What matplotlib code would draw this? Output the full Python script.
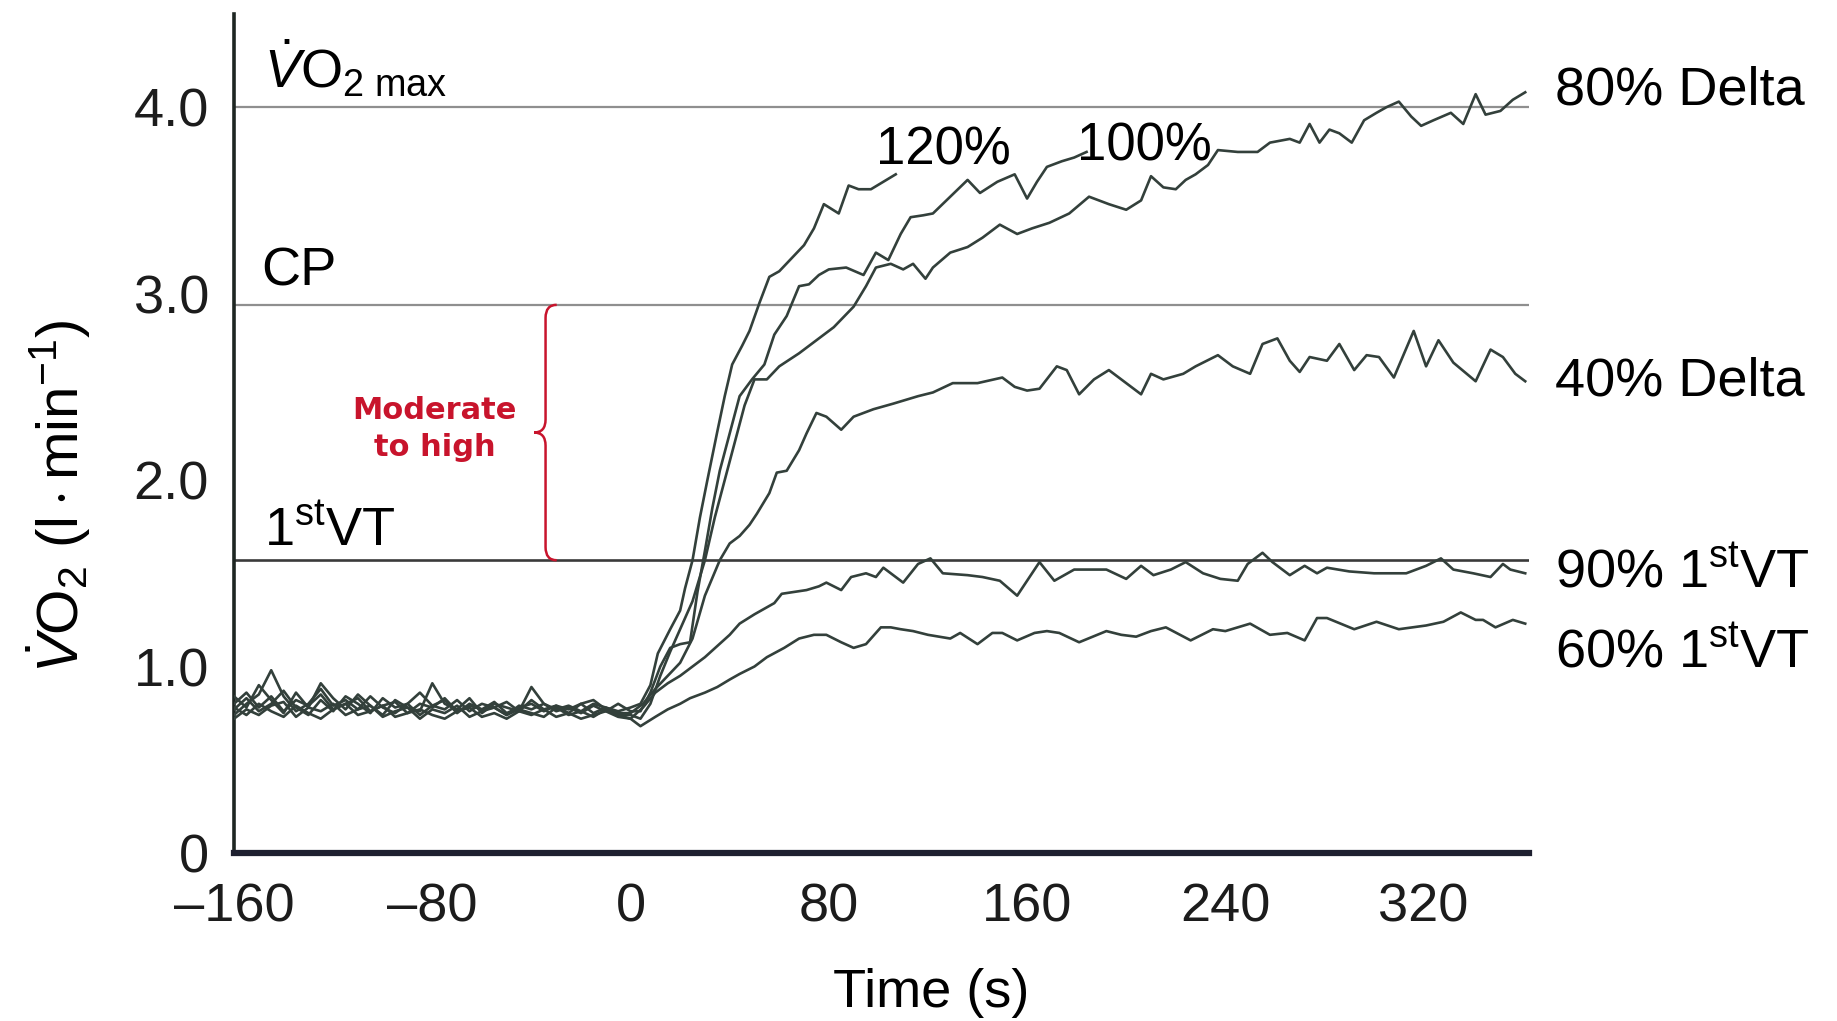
import numpy as np
import matplotlib
matplotlib.use("Agg")
import matplotlib.pyplot as plt
from matplotlib.path import Path
from matplotlib.patches import PathPatch

plt.rcParams['font.family'] = ['Liberation Sans', 'DejaVu Sans']
plt.rcParams['mathtext.fontset'] = 'custom'
plt.rcParams['mathtext.rm'] = 'Liberation Sans'
plt.rcParams['mathtext.it'] = 'Liberation Sans:italic'
plt.rcParams['mathtext.bf'] = 'Liberation Sans:bold'

# reference levels (l/min)
vo2max_level = 4.0
cp_level = 2.94
vt_level = 1.57

# baseline period, sampled every 5 s from -160 to 0
t_base = np.arange(-160, 1, 5)
base_120 = [0.80, 0.86, 0.78, 0.84, 0.76, 0.82, 0.79, 0.85, 0.77, 0.80, 0.83, 0.76, 0.79, 0.81, 0.75, 0.80, 0.78,
            0.83, 0.76, 0.79, 0.77, 0.81, 0.75, 0.78, 0.80, 0.76, 0.79, 0.77, 0.80, 0.75, 0.78, 0.76, 0.78]
base_100 = [0.74, 0.80, 0.85, 0.98, 0.84, 0.76, 0.80, 0.88, 0.79, 0.82, 0.77, 0.84, 0.78, 0.75, 0.80, 0.86, 0.79,
            0.77, 0.82, 0.76, 0.80, 0.78, 0.74, 0.79, 0.77, 0.80, 0.76, 0.78, 0.75, 0.79, 0.76, 0.80, 0.76]
base_80 = [0.84, 0.78, 0.90, 0.82, 0.75, 0.86, 0.78, 0.91, 0.83, 0.77, 0.85, 0.79, 0.74, 0.82, 0.78, 0.76, 0.91,
           0.80, 0.77, 0.83, 0.75, 0.80, 0.78, 0.76, 0.82, 0.77, 0.79, 0.75, 0.80, 0.82, 0.77, 0.74, 0.74]
base_40 = [0.77, 0.83, 0.76, 0.80, 0.87, 0.78, 0.74, 0.82, 0.76, 0.84, 0.80, 0.75, 0.83, 0.78, 0.80, 0.74, 0.79,
           0.82, 0.75, 0.80, 0.77, 0.78, 0.81, 0.76, 0.89, 0.80, 0.77, 0.79, 0.76, 0.80, 0.78, 0.75, 0.75]
base_90 = [0.72, 0.77, 0.74, 0.79, 0.81, 0.73, 0.78, 0.76, 0.80, 0.74, 0.77, 0.79, 0.73, 0.76, 0.78, 0.72, 0.77,
           0.75, 0.79, 0.73, 0.76, 0.78, 0.74, 0.77, 0.75, 0.73, 0.78, 0.74, 0.76, 0.73, 0.77, 0.74, 0.72]
base_60 = [0.78, 0.74, 0.80, 0.76, 0.73, 0.79, 0.75, 0.72, 0.77, 0.80, 0.74, 0.76, 0.79, 0.73, 0.75, 0.77, 0.74,
           0.72, 0.76, 0.78, 0.73, 0.75, 0.72, 0.76, 0.74, 0.77, 0.73, 0.75, 0.72, 0.74, 0.76, 0.73, 0.72]

# exercise period (s, l/min)
t_120 = [4, 8, 11, 16, 20, 22, 25, 28, 31, 35, 38, 41, 45, 48, 52, 56, 60, 65, 70, 74, 78, 84, 88, 92, 97, 102, 107]
v_120 = [0.80, 0.90, 1.07, 1.20, 1.30, 1.42, 1.57, 1.80, 2.00, 2.26, 2.45, 2.62, 2.72, 2.80, 2.95, 3.09, 3.12,
         3.19, 3.26, 3.35, 3.48, 3.43, 3.58, 3.56, 3.56, 3.60, 3.64]

t_100 = [4, 8, 12, 16, 20, 24, 27, 30, 33, 36, 40, 44, 49, 54, 58, 63, 68, 72, 76, 80, 87, 94, 99, 104, 109, 113,
         118, 122, 129, 136, 141, 148, 155, 160, 164, 168, 174, 179, 184]
v_100 = [0.76, 0.86, 1.00, 1.10, 1.12, 1.13, 1.40, 1.62, 1.85, 2.05, 2.25, 2.45, 2.54, 2.62, 2.78, 2.88, 3.04,
         3.05, 3.10, 3.13, 3.14, 3.10, 3.22, 3.18, 3.32, 3.41, 3.42, 3.43, 3.52, 3.61, 3.54, 3.60, 3.64, 3.51,
         3.60, 3.68, 3.71, 3.73, 3.76]

t_80 = [4, 8, 12, 16, 20, 25, 30, 34, 38, 42, 46, 50, 55, 60, 68, 75, 82, 90, 95, 99, 105, 110, 114, 119, 122,
        129, 136, 142, 149, 156, 162, 169, 177, 185, 193, 200, 206, 210, 215, 220, 224, 228, 233, 237, 245, 253,
        258, 266, 270, 274, 278, 282, 286, 291, 296, 301, 305, 310, 315, 319, 324, 331, 336, 341, 345, 351, 356, 361]
v_80 = [0.72, 0.80, 0.95, 1.08, 1.20, 1.35, 1.57, 1.80, 2.00, 2.20, 2.40, 2.54, 2.54, 2.61, 2.68, 2.75, 2.82,
        2.93, 3.04, 3.14, 3.16, 3.13, 3.16, 3.08, 3.14, 3.22, 3.25, 3.30, 3.37, 3.32, 3.35, 3.38, 3.43, 3.52,
        3.48, 3.45, 3.50, 3.63, 3.57, 3.56, 3.61, 3.64, 3.69, 3.77, 3.76, 3.76, 3.81, 3.83, 3.81, 3.91, 3.81,
        3.88, 3.86, 3.81, 3.93, 3.97, 4.00, 4.03, 3.95, 3.90, 3.93, 3.97, 3.91, 4.07, 3.96, 3.98, 4.04, 4.08]

t_40 = [5, 10, 15, 20, 25, 30, 36, 40, 44, 48, 51, 56, 59, 63, 68, 71, 75, 79, 85, 90, 98, 106, 116, 122, 130,
        140, 150, 155, 160, 165, 172, 176, 181, 187, 193, 199, 206, 210, 215, 223, 228, 237, 243, 250, 255, 261,
        266, 270, 274, 281, 286, 292, 297, 302, 308, 316, 321, 326, 332, 341, 347, 352, 357, 361]
v_40 = [0.80, 0.88, 0.95, 1.02, 1.15, 1.38, 1.57, 1.66, 1.70, 1.76, 1.82, 1.93, 2.04, 2.05, 2.16, 2.25, 2.36,
        2.34, 2.27, 2.34, 2.38, 2.41, 2.45, 2.47, 2.52, 2.52, 2.55, 2.50, 2.48, 2.49, 2.61, 2.59, 2.46, 2.54,
        2.59, 2.53, 2.46, 2.57, 2.54, 2.57, 2.61, 2.67, 2.61, 2.57, 2.73, 2.76, 2.64, 2.58, 2.66, 2.64, 2.73,
        2.59, 2.67, 2.66, 2.55, 2.80, 2.61, 2.75, 2.63, 2.53, 2.70, 2.66, 2.57, 2.53]

t_90 = [5, 10, 15, 20, 25, 30, 35, 40, 44, 50, 58, 61, 66, 71, 76, 79, 85, 89, 95, 99, 102, 110, 116, 121, 126,
        136, 142, 149, 156, 165, 171, 179, 192, 200, 206, 211, 218, 224, 231, 238, 245, 249, 255, 259, 266, 272,
        277, 281, 290, 300, 313, 321, 327, 332, 340, 347, 352, 355, 361]
v_90 = [0.78, 0.86, 0.91, 0.95, 1.00, 1.05, 1.11, 1.17, 1.23, 1.28, 1.34, 1.39, 1.40, 1.41, 1.43, 1.45, 1.41,
        1.48, 1.50, 1.48, 1.53, 1.45, 1.55, 1.58, 1.50, 1.49, 1.48, 1.46, 1.38, 1.56, 1.46, 1.52, 1.52, 1.47,
        1.54, 1.49, 1.52, 1.56, 1.50, 1.47, 1.46, 1.55, 1.61, 1.56, 1.49, 1.54, 1.50, 1.53, 1.51, 1.50, 1.50,
        1.54, 1.58, 1.52, 1.50, 1.48, 1.55, 1.52, 1.50]

t_60 = [4, 10, 15, 20, 24, 30, 35, 40, 44, 50, 55, 62, 68, 74, 79, 85, 90, 95, 101, 105, 109, 114, 120, 129, 133,
        140, 146, 150, 156, 163, 168, 173, 181, 192, 198, 204, 210, 216, 226, 235, 240, 250, 258, 265, 272, 277,
        281, 292, 301, 310, 321, 328, 335, 341, 344, 349, 356, 361]
v_60 = [0.68, 0.73, 0.77, 0.80, 0.83, 0.86, 0.89, 0.93, 0.96, 1.00, 1.05, 1.10, 1.15, 1.17, 1.17, 1.13, 1.10,
        1.12, 1.21, 1.21, 1.20, 1.19, 1.17, 1.15, 1.18, 1.12, 1.18, 1.18, 1.14, 1.18, 1.19, 1.18, 1.13, 1.19,
        1.17, 1.16, 1.19, 1.21, 1.14, 1.20, 1.19, 1.23, 1.17, 1.18, 1.14, 1.26, 1.26, 1.20, 1.24, 1.20, 1.22,
        1.24, 1.29, 1.25, 1.25, 1.21, 1.25, 1.23]

series = [
    (base_120, t_120, v_120),
    (base_100, t_100, v_100),
    (base_80, t_80, v_80),
    (base_40, t_40, v_40),
    (base_90, t_90, v_90),
    (base_60, t_60, v_60),
]

right_labels = ['80% Delta', '40% Delta', r'90% 1$^{\mathrm{st}}$VT', r'60% 1$^{\mathrm{st}}$VT']
right_label_y = [4.09, 2.53, 1.50, 1.07]

line_col = '#33403b'
fs = 39

fig = plt.figure(figsize=(18.37, 10.21), dpi=100)
ax = fig.add_axes([0.1274, 0.1646, 0.7049, 0.8217])

xmin, xmax = -160, 362.5
ax.set_xlim(xmin, xmax)
ax.set_ylim(0, 4.5)

# threshold lines
ax.hlines([vo2max_level, cp_level], xmin, xmax, colors='#8f8f8f', lw=1.6, zorder=1)
ax.hlines(vt_level, xmin, xmax, colors='#3a3a3a', lw=1.9, zorder=1)

for base, t, v in series:
    tt = np.concatenate([t_base, t])
    vv = np.concatenate([base, v])
    ax.plot(tt, vv, color=line_col, lw=1.9, zorder=3)

# spines and ticks
for s in ['top', 'right']:
    ax.spines[s].set_visible(False)
ax.spines['left'].set_linewidth(2.6)
ax.spines['left'].set_color('#1e2622')
ax.spines['bottom'].set_linewidth(4.5)
ax.spines['bottom'].set_color('#1e2030')

ax.set_xticks([-160, -80, 0, 80, 160, 240, 320])
ax.set_xticklabels(['\u2013160', '\u201380', '0', '80', '160', '240', '320'])
ax.set_yticks([0, 1, 2, 3, 4])
ax.set_yticklabels(['0', '1.0', '2.0', '3.0', '4.0'])
ax.tick_params(axis='both', length=0, labelsize=39, colors='#1c1c1c')
ax.tick_params(axis='y', pad=18)
ax.tick_params(axis='x', pad=21)

ax.set_xlabel('Time (s)', fontsize=fs, va='center')
ax.xaxis.set_label_coords(0.538, -0.167)
ax.set_ylabel(r'$\dot{V}\mathrm{O}_2\ (\mathrm{l}\cdot\mathrm{min}^{-1})$', fontsize=42, va='center')
ax.yaxis.set_label_coords(-0.135, 0.425)

# threshold names
ax.text(-148, 4.21, r'$\dot{V}\mathrm{O}_{2\ \mathrm{max}}$', fontsize=fs, va='center', ha='left')
ax.text(-149, 3.12, 'CP', fontsize=fs, va='center', ha='left')
ax.text(-148, 1.72, r'1$^{\mathrm{st}}$VT', fontsize=fs, va='center', ha='left')

# intensity labels
ax.text(99, 3.77, '120%', fontsize=fs - 1, va='center', ha='left')
ax.text(180, 3.79, '100%', fontsize=fs - 1, va='center', ha='left')
for lab, y in zip(right_labels, right_label_y):
    ax.text(373, y, lab, fontsize=fs, va='center', ha='left', clip_on=False)

# red brace marking the moderate-to-high domain
red = '#c8142c'
x0, xt, xh, r = -34.3, -38.9, -29.8, 0.07
ym = (cp_level + vt_level) / 2
verts = [(xh, vt_level), (x0, vt_level), (x0, vt_level + r),
         (x0, ym - r),
         (x0, ym), (xt, ym),
         (x0, ym), (x0, ym + r),
         (x0, cp_level - r),
         (x0, cp_level), (xh, cp_level)]
codes = [Path.MOVETO, Path.CURVE3, Path.CURVE3,
         Path.LINETO,
         Path.CURVE3, Path.CURVE3,
         Path.CURVE3, Path.CURVE3,
         Path.LINETO,
         Path.CURVE3, Path.CURVE3]
ax.add_patch(PathPatch(Path(verts, codes), fill=False, edgecolor=red, lw=1.8, zorder=4))
ax.text(-79, ym + 0.02, 'Moderate\nto high', color=red, fontsize=22, fontweight='bold',
        family=['DejaVu Sans'], ha='center', va='center', linespacing=1.35)

fig.savefig('out.png', dpi=100, facecolor='white')
